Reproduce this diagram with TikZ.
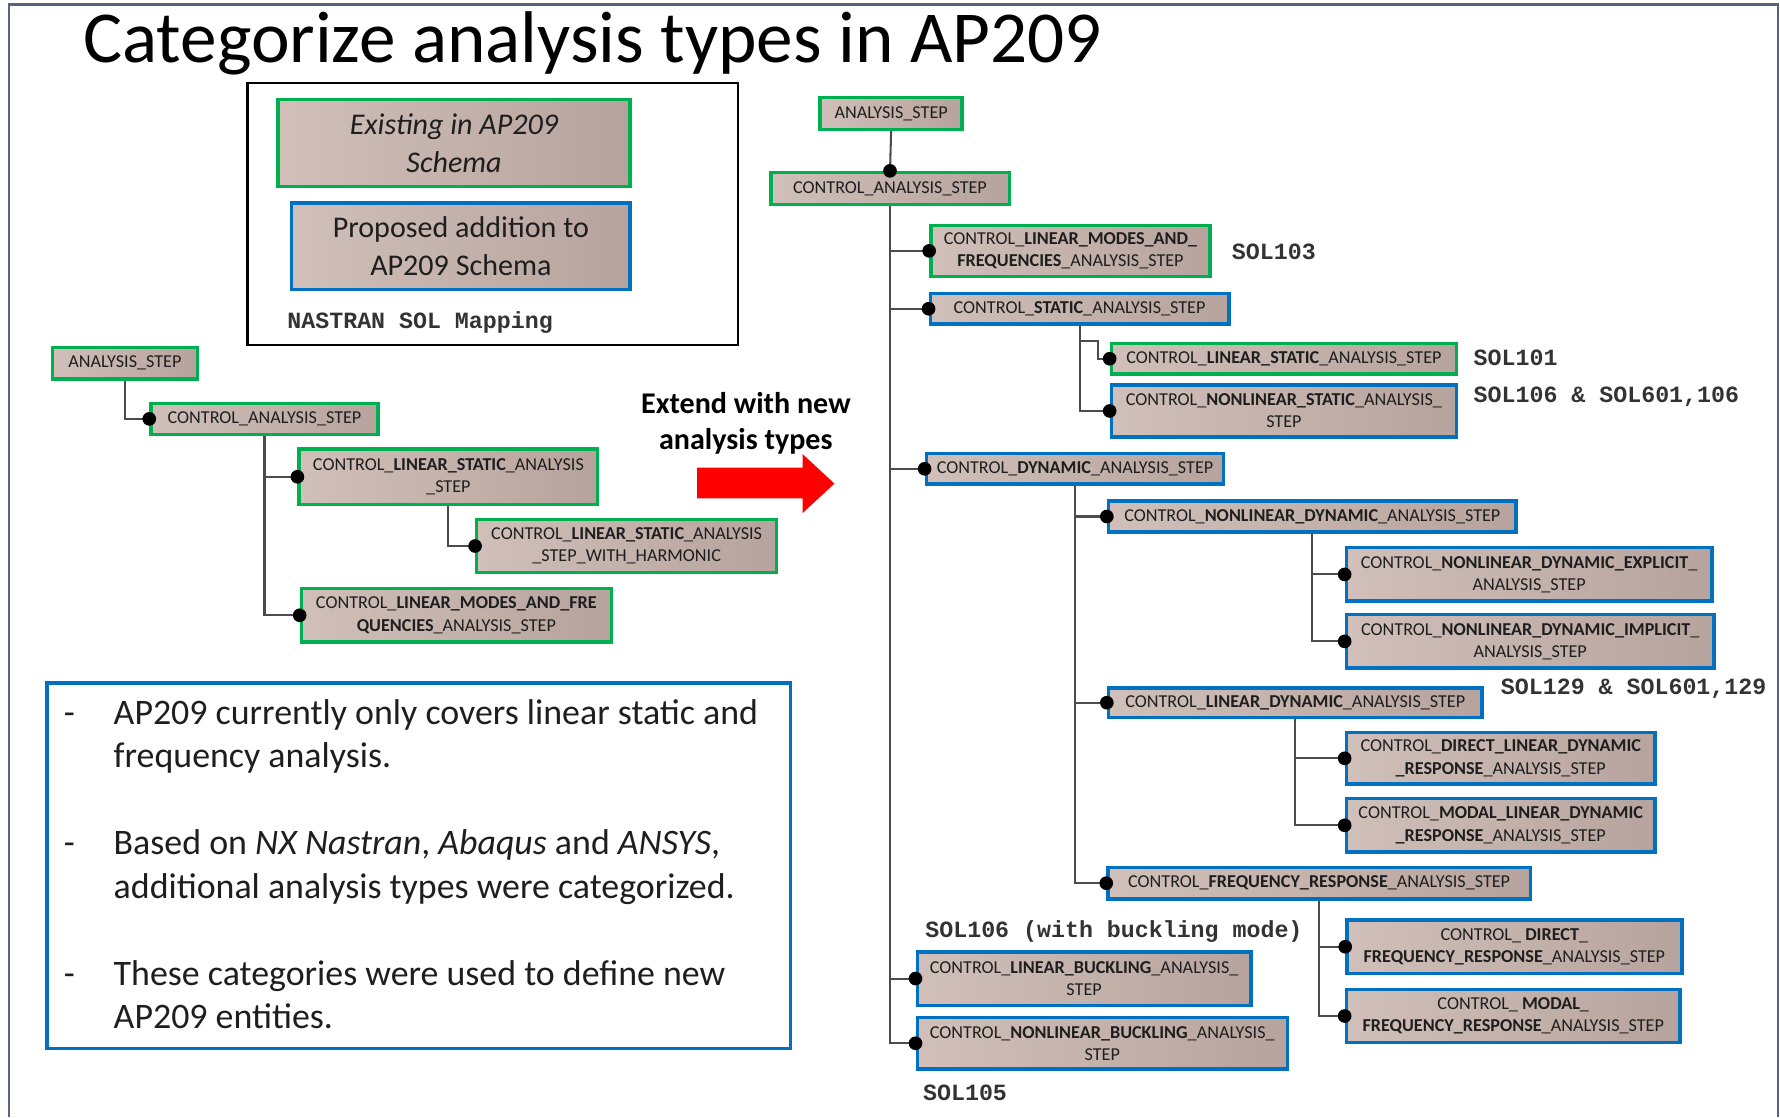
\documentclass[tikz,border=0pt]{standalone}
\usepackage{fontspec}
\setmainfont{Carlito}
\setmonofont{Liberation Mono}
\usetikzlibrary{arrows.meta}

\definecolor{schemagreen}{RGB}{0,176,80}
\definecolor{schemablue}{RGB}{0,112,192}
\definecolor{boxlight}{RGB}{208,192,185}
\definecolor{boxdark}{RGB}{183,163,157}
\definecolor{framegray}{RGB}{88,100,122}
\definecolor{labelgray}{RGB}{30,30,30}

\tikzset{
  entity/.style={left color=boxlight, right color=boxdark, line width=3pt, text=labelgray,
    align=center, inner sep=1pt, font=\fontsize{16}{19.5}\selectfont},
  existing/.style={entity, draw=schemagreen},
  proposed/.style={entity, draw=schemablue},
  legendbox/.style={left color=boxlight, right color=boxdark, line width=3pt, text=labelgray,
    align=center, font=\fontsize{26.5}{33}\selectfont},
  link/.style={draw=black!70, line width=1.8pt, -{Circle[black, length=12pt, width=12pt]}, shorten >=-6pt},
  sol/.style={anchor=base west, inner sep=0pt, text=black!80,
    font=\ttfamily\bfseries\fontsize{20.5}{24}\selectfont},
}

\begin{document}
\begin{tikzpicture}[x=1pt, y=-1pt]
  \useasboundingbox (0,0) rectangle (1568,984);
  \draw[framegray, line width=2pt] (8,984) -- (8,4) -- (1566,4) -- (1566,984);

  \node[anchor=base, inner sep=0pt, font=\fontsize{64.5}{70}\selectfont] (title) at (522,55)
    {Categorize analysis types in AP209};

  % legend
  \node[draw=black, line width=2pt, minimum width=432pt, minimum height=231pt] (legend) at (434,188.5) {};
  \node[legendbox, draw=schemagreen, minimum width=310pt, minimum height=77pt] (lexisting) at (400,126)
    {\itshape Existing in AP209\\\itshape Schema};
  \node[legendbox, draw=schemablue, minimum width=298pt, minimum height=76pt] (lproposed) at (406,217)
    {Proposed addition to\\AP209 Schema};
  \node[sol] (nastran) at (253,289) {NASTRAN SOL Mapping};

  % current AP209 tree
  \node[existing, minimum width=128pt, minimum height=28pt] (lanalysis) at (110,320) {ANALYSIS\_STEP};
  \node[existing, minimum width=200pt, minimum height=27pt] (lcontrol) at (233,369) {CONTROL\_ANALYSIS\_STEP};
  \node[existing, minimum width=263pt, minimum height=49pt] (llinstatic) at (395,420)
    {CONTROL\_\textbf{LINEAR\_STATIC}\_ANALYSIS\\\_STEP};
  \node[existing, minimum width=264pt, minimum height=47pt] (lharmonic) at (552,481)
    {CONTROL\_\textbf{LINEAR\_STATIC}\_ANALYSIS\\\_STEP\_WITH\_HARMONIC};
  \node[existing, minimum width=273pt, minimum height=47pt] (lmodes) at (402,542)
    {CONTROL\_\textbf{LINEAR\_MODES\_AND\_FRE}\\\textbf{QUENCIES}\_ANALYSIS\_STEP};
  \draw[link] (lanalysis.south) |- (lcontrol.west);
  \draw[link] (lcontrol.south) |- (llinstatic.west);
  \draw[link] (llinstatic.south) |- (lharmonic.west);
  \draw[link] (lcontrol.south) |- (lmodes.west);

  % arrow
  \node[align=center, font=\bfseries\fontsize{26.5}{32}\selectfont] (extend) at (657,373)
    {Extend with new\\analysis types};
  \fill[red] (614,412) -- (707,412) -- (707,400) -- (735,426) -- (707,452) -- (707,439) -- (614,439) -- cycle;

  % notes
  \node[draw=schemablue, line width=3pt, minimum width=655pt, minimum height=322pt] (notes) at (369,762.5) {};
  \node[anchor=base west, inner sep=0pt, text=labelgray, font=\fontsize{31.6}{38.3}\selectfont] (notelist) at (56,638)
    {\begin{tabular}[t]{@{}p{44pt}@{}l@{}}
      - & AP209 currently only covers linear static and\\
        & frequency analysis.\\
        & \\
      - & Based on \textit{NX Nastran}, \textit{Abaqus} and \textit{ANSYS},\\
        & additional analysis types were categorized.\\
        & \\
      - & These categories were used to define new\\
        & AP209 entities.
    \end{tabular}};

  % extended tree
  \node[existing, minimum width=125pt, minimum height=28pt] (ranalysis) at (785,100) {ANALYSIS\_STEP};
  \node[existing, minimum width=210pt, minimum height=28pt] (rcontrol) at (784,166) {CONTROL\_ANALYSIS\_STEP};
  \node[existing, minimum width=246pt, minimum height=45pt] (rmodes) at (943,221)
    {CONTROL\_\textbf{LINEAR\_MODES\_AND\_}\\\textbf{FREQUENCIES}\_ANALYSIS\_STEP};
  \node[proposed, minimum width=263pt, minimum height=27pt] (rstatic) at (951,272)
    {CONTROL\_\textbf{STATIC}\_ANALYSIS\_STEP};
  \node[existing, minimum width=304pt, minimum height=27pt] (rlinstatic) at (1131,316)
    {CONTROL\_\textbf{LINEAR\_STATIC}\_ANALYSIS\_STEP};
  \node[proposed, minimum width=304pt, minimum height=46pt] (rnlstatic) at (1131,362)
    {CONTROL\_\textbf{NONLINEAR\_STATIC}\_ANALYSIS\_\\STEP};
  \node[proposed, minimum width=262pt, minimum height=27pt] (rdynamic) at (947,413)
    {CONTROL\_\textbf{DYNAMIC}\_ANALYSIS\_STEP};
  \node[proposed, minimum width=359pt, minimum height=27pt] (rnldyn) at (1156,455)
    {CONTROL\_\textbf{NONLINEAR\_DYNAMIC}\_ANALYSIS\_STEP};
  \node[proposed, minimum width=322pt, minimum height=47pt] (rexplicit) at (1347,506)
    {CONTROL\_\textbf{NONLINEAR\_DYNAMIC\_EXPLICIT}\_\\ANALYSIS\_STEP};
  \node[proposed, minimum width=324pt, minimum height=47pt] (rimplicit) at (1348,565)
    {CONTROL\_\textbf{NONLINEAR\_DYNAMIC\_IMPLICIT}\_\\ANALYSIS\_STEP};
  \node[proposed, minimum width=329pt, minimum height=26pt] (rlindyn) at (1141,619)
    {CONTROL\_\textbf{LINEAR\_DYNAMIC}\_ANALYSIS\_STEP};
  \node[proposed, minimum width=272pt, minimum height=45pt] (rdirectlin) at (1322,668)
    {CONTROL\_\textbf{DIRECT\_LINEAR\_DYNAMIC}\\\textbf{\_RESPONSE}\_ANALYSIS\_STEP};
  \node[proposed, minimum width=272pt, minimum height=47pt] (rmodallin) at (1322,727)
    {CONTROL\_\textbf{MODAL\_LINEAR\_DYNAMIC}\\\textbf{\_RESPONSE}\_ANALYSIS\_STEP};
  \node[proposed, minimum width=372pt, minimum height=28pt] (rfreq) at (1162,778)
    {CONTROL\_\textbf{FREQUENCY\_RESPONSE}\_ANALYSIS\_STEP};
  \node[proposed, minimum width=295pt, minimum height=47pt] (rdirectfreq) at (1334,834)
    {CONTROL\_ \textbf{DIRECT}\_\\\textbf{FREQUENCY\_RESPONSE}\_ANALYSIS\_STEP};
  \node[proposed, minimum width=294pt, minimum height=47pt] (rmodalfreq) at (1333,895)
    {CONTROL\_ \textbf{MODAL}\_\\\textbf{FREQUENCY\_RESPONSE}\_ANALYSIS\_STEP};
  \node[proposed, minimum width=294pt, minimum height=47pt] (rlinbuck) at (955,862)
    {CONTROL\_\textbf{LINEAR\_BUCKLING}\_ANALYSIS\_\\STEP};
  \node[proposed, minimum width=326pt, minimum height=45pt] (rnlbuck) at (971,919)
    {CONTROL\_\textbf{NONLINEAR\_BUCKLING}\_ANALYSIS\_\\STEP};

  \draw[link] (ranalysis.south) -- (rcontrol.north);
  \draw[link] (rcontrol.south) |- (rmodes.west);
  \draw[link] (rcontrol.south) |- (rstatic.west);
  \draw[link] (rstatic.south) -- ++(0,13) -- ++(16,0) |- (rlinstatic.west);
  \draw[link] (rstatic.south) |- (rnlstatic.west);
  \draw[link] (rcontrol.south) |- (rdynamic.west);
  \draw[link] (rdynamic.south) |- (rnldyn.west);
  \draw[link] (rnldyn.south) |- (rexplicit.west);
  \draw[link] (rnldyn.south) |- (rimplicit.west);
  \draw[link] (rdynamic.south) |- (rlindyn.west);
  \draw[link] (rlindyn.south) |- (rdirectlin.west);
  \draw[link] (rlindyn.south) |- (rmodallin.west);
  \draw[link] (rdynamic.south) |- (rfreq.west);
  \draw[link] (rfreq.south) |- (rdirectfreq.west);
  \draw[link] (rfreq.south) |- (rmodalfreq.west);
  \draw[link] (rcontrol.south) |- (rlinbuck.west);
  \draw[link] (rcontrol.south) |- (rnlbuck.west);

  % NASTRAN solutions
  \node[sol] (sol103) at (1085,229) {SOL103};
  \node[sol] (sol101) at (1298,322) {SOL101};
  \node[sol] (sol106) at (1298,355) {SOL106 \& SOL601,106};
  \node[sol] (sol129) at (1322,612) {SOL129 \& SOL601,129};
  \node[sol] (sol106b) at (815,826) {SOL106 (with buckling mode)};
  \node[sol] (sol105) at (813,969) {SOL105};
\end{tikzpicture}
\end{document}
